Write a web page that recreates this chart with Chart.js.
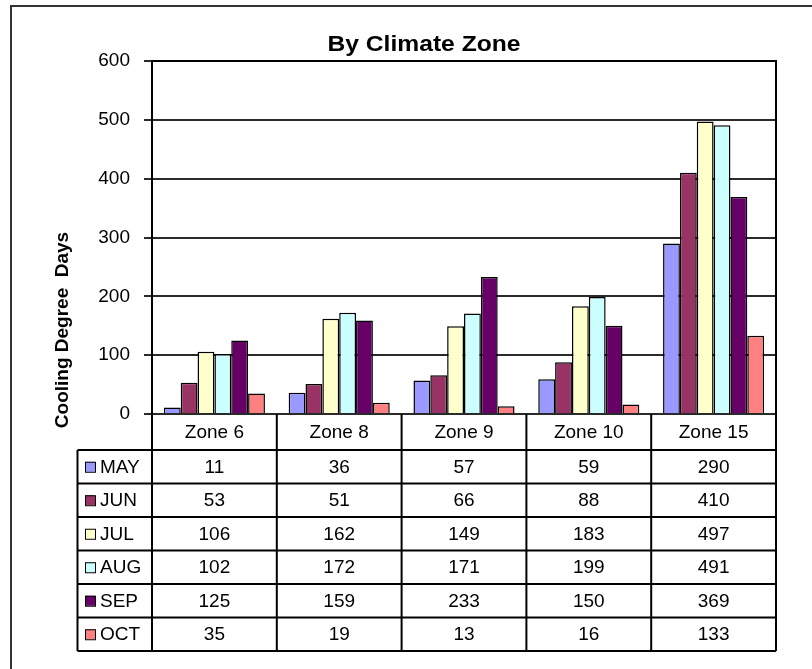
<!DOCTYPE html>
<html>
<head>
<meta charset="utf-8">
<title>By Climate Zone</title>
<script src="https://cdn.jsdelivr.net/npm/chart.js@4.4.0/dist/chart.umd.min.js"></script>
<style>
    html, body { margin: 0; padding: 0; background: #ffffff; }
    #wrap { width: 812px; height: 669px; position: relative; }
</style>
</head>
<body>
<div id="wrap"><canvas id="grafico" width="812" height="669"></canvas></div>
<script>
const zonas = ['Zone 6', 'Zone 8', 'Zone 9', 'Zone 10', 'Zone 15'];
const meses = ['MAY', 'JUN', 'JUL', 'AUG', 'SEP', 'OCT'];

const may = [11, 36, 57, 59, 290];
const jun = [53, 51, 66, 88, 410];
const jul = [106, 162, 149, 183, 497];
const aug = [102, 172, 171, 199, 491];
const sep = [125, 159, 233, 150, 369];
const oct = [35, 19, 13, 16, 133];

const yTicks = [0, 100, 200, 300, 400, 500, 600];

const colores = ['#9999FF', '#993366', '#FFFFCC', '#CCFFFF', '#660066', '#FF8080'];
const fuente = "'Liberation Sans', Arial, sans-serif";

const series = [may, jun, jul, aug, sep, oct];

// outer frame, title, axis title and the data table under the plot
const tablaPlugin = {
    id: 'tablaDatos',
    afterDraw(chart) {
        const ctx = chart.ctx;
        const area = chart.chartArea;
        const n = zonas.length;
        const w = (area.right - area.left) / n;
        const headerH = 36;
        const rowH = 33.5;
        const legendLeft = 77.5;
        const top = area.bottom;
        const rowsTop = top + headerH;
        const bottom = rowsTop + rowH * meses.length;

        ctx.save();

        // frame
        ctx.strokeStyle = '#333';
        ctx.lineWidth = 2;
        ctx.strokeRect(11, 6, 840, 700);

        // plot border top/right
        ctx.strokeStyle = '#000';
        ctx.lineWidth = 2;
        ctx.beginPath();
        ctx.moveTo(area.left, area.top);
        ctx.lineTo(area.right, area.top);
        ctx.lineTo(area.right, area.bottom);
        ctx.stroke();

        // title
        ctx.fillStyle = '#000';
        ctx.font = 'bold 22px ' + fuente;
        ctx.textAlign = 'center';
        ctx.textBaseline = 'alphabetic';
        ctx.save();
        ctx.translate(424, 51);
        ctx.scale(1.12, 1);
        ctx.fillText('By Climate Zone', 0, 0);
        ctx.restore();

        // y axis title
        ctx.save();
        ctx.translate(63, 330);
        ctx.rotate(-Math.PI / 2);
        ctx.font = 'bold 19px ' + fuente;
        ctx.textBaseline = 'middle';
        ctx.fillText('Cooling Degree  Days', 0, 0);
        ctx.restore();

        // table lines
        ctx.strokeStyle = '#000';
        ctx.lineWidth = 2;
        ctx.beginPath();
        for (let i = 0; i <= n; i++) {
            const x = area.left + i * w;
            ctx.moveTo(x, top);
            ctx.lineTo(x, bottom);
        }
        ctx.moveTo(legendLeft, rowsTop);
        ctx.lineTo(legendLeft, bottom);
        for (let r = 0; r <= meses.length; r++) {
            const y = rowsTop + r * rowH;
            ctx.moveTo(legendLeft, y);
            ctx.lineTo(area.right, y);
        }
        ctx.stroke();

        // header
        ctx.font = '19px ' + fuente;
        ctx.textAlign = 'center';
        ctx.textBaseline = 'middle';
        zonas.forEach((z, i) => {
            ctx.fillText(z, area.left + (i + 0.5) * w, top + headerH / 2 + 1);
        });

        // rows
        meses.forEach((m, r) => {
            const yc = rowsTop + (r + 0.5) * rowH + 1;
            ctx.fillStyle = colores[r];
            ctx.fillRect(85, yc - 6, 10, 10);
            ctx.strokeStyle = '#000';
            ctx.lineWidth = 1;
            ctx.strokeRect(85.5, yc - 5.5, 10, 10);

            ctx.fillStyle = '#000';
            ctx.textAlign = 'left';
            ctx.fillText(m, 100, yc);
            ctx.textAlign = 'center';
            series[r].forEach((v, i) => {
                ctx.fillText(String(v), area.left + (i + 0.5) * w, yc);
            });
        });

        ctx.restore();
    }
};

new Chart(document.getElementById('grafico'), {
    type: 'bar',
    data: {
        labels: zonas,
        datasets: meses.map((m, i) => ({
            label: m,
            data: series[i],
            backgroundColor: colores[i],
            borderColor: '#000',
            borderWidth: 1.5,
            categoryPercentage: 0.81,
            barPercentage: 1.0
        }))
    },
    options: {
        responsive: false,
        animation: false,
        layout: {
            padding: { left: 0, right: 36, top: 61, bottom: 255 }
        },
        scales: {
            x: {
                display: false
            },
            y: {
                min: 0,
                max: 600,
                afterFit: function(axis) { axis.width = 152; },
                afterBuildTicks: function(axis) {
                    axis.ticks = yTicks.map(v => ({ value: v }));
                },
                ticks: {
                    color: '#000',
                    padding: 14,
                    font: { family: fuente, size: 19 }
                },
                grid: {
                    color: '#2a2a2a',
                    lineWidth: 2,
                    tickLength: 8
                },
                border: { color: '#000', width: 2 }
            }
        },
        plugins: {
            legend: { display: false },
            tooltip: { enabled: false },
            title: { display: false }
        }
    },
    plugins: [tablaPlugin]
});
</script>
</body>
</html>
